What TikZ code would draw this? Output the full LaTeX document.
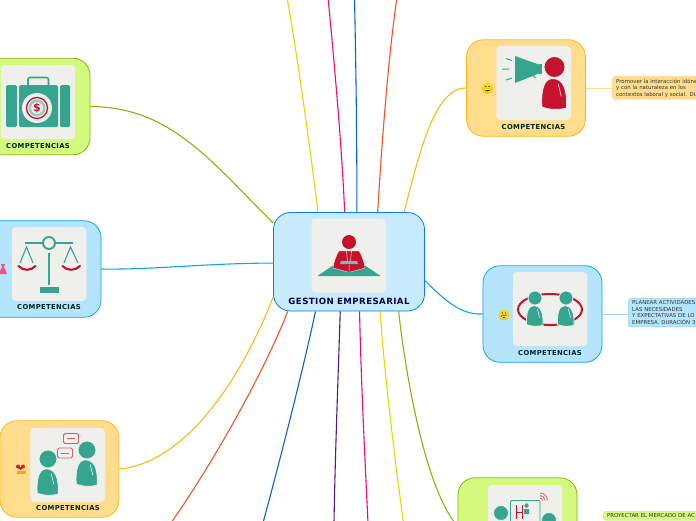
\documentclass[tikz,border=0pt]{standalone}
\usepackage{fontspec}
\setmainfont{DejaVu Sans}
\newfontfamily\widefont[LetterSpace=5]{DejaVu Sans}
\usetikzlibrary{backgrounds}

\definecolor{tilegray}{HTML}{EFF0EC}
\definecolor{iconteal}{HTML}{35A58F}
\definecolor{iconred}{HTML}{C5122F}
\definecolor{sunfill}{HTML}{FFDD8C}
\definecolor{sunline}{HTML}{FDB913}
\definecolor{skyfill}{HTML}{B4E5FC}
\definecolor{skyline}{HTML}{0EA5E9}
\definecolor{limefill}{HTML}{D3F97F}
\definecolor{limeline}{HTML}{86B60C}
\definecolor{lineyellow}{HTML}{E8D500}
\definecolor{linepink}{HTML}{EA0A78}
\definecolor{lineblue}{HTML}{0A62D0}
\definecolor{linered}{HTML}{EE5522}
\definecolor{linepurple}{HTML}{55187F}

% person: head and body, x y of the head, radius, colour
\newcommand{\personicon}[4]{
  \fill[#4, draw=tilegray, line width=0.8pt] (#1,#2) circle (#3);
  \fill[#4, draw=tilegray, line width=0.8pt] (#1-0.2*#3,#2+1.1*#3)
    .. controls (#1+0.9*#3,#2+1.1*#3) and (#1+1.2*#3,#2+2.2*#3) .. (#1+1.15*#3,#2+3.9*#3)
    .. controls (#1+0.5*#3,#2+4.1*#3) and (#1-0.5*#3,#2+4.1*#3) .. (#1-1.2*#3,#2+3.8*#3)
    .. controls (#1-1.3*#3,#2+2.2*#3) and (#1-1*#3,#2+1.1*#3) .. cycle;
  \draw[tilegray, line width=0.6pt] (#1+0.35*#3,#2+1.6*#3) -- (#1+0.65*#3,#2+2.8*#3);
}
% smiley
\newcommand{\smileyicon}[2]{
  \fill[orange!60!yellow] (#1,#2) circle (5.4);
  \fill[yellow!80!orange] (#1,#2-0.3) circle (4.8);
  \fill[black!80] (#1-1.6,#2-2) circle (0.7) (#1+1.6,#2-2) circle (0.7);
  \fill[black!75] (#1-3,#2+0.3) -- (#1+3,#2+0.3) arc (0:180:3 and 2.6) -- cycle;
  \fill[white] (#1-2.5,#2+0.6) rectangle (#1+2.5,#2+1.4);
}

\begin{document}
\begin{tikzpicture}[
    x=1pt, y=-1pt,
    hub/.style={draw=skyline!75!blue, fill=skyfill!75!white, line width=0.8pt, rounded corners=17pt, minimum width=151pt, minimum height=98.5pt, inner sep=0pt},
    topic/.style={line width=0.8pt, rounded corners=17pt, minimum width=119pt, minimum height=96.5pt, inner sep=0pt},
    tile/.style={fill=tilegray, rounded corners=4pt, minimum width=74.5pt, minimum height=74pt, inner sep=0pt},
    title/.style={font=\widefont\bfseries\fontsize{6.8}{7}\selectfont, text=black!70!teal, inner sep=0pt},
    leaf/.style={rounded corners=3pt, anchor=north west, inner xsep=4pt, inner ysep=2.5pt, text width=110pt, align=left, font=\fontsize{5.4}{6.55}\selectfont, text=black!80},
    branch/.style={line width=1.1pt},
    twig/.style={line width=1pt}
]
\useasboundingbox (0,0) rectangle (696,520);
\clip (0,0) rectangle (696,520);

\node[hub] (hub) at (349,261.75) {};
\node[tile] (hubtile) at (348.75,255.5) {};
\node[font=\widefont\bfseries\fontsize{8.6}{9}\selectfont, text=blue!30!black, inner sep=0pt] (hubtitle) at (349,301.5) {GESTION EMPRESARIAL};

\node[topic, draw=limeline, fill=limefill] (money) at (30.5,106.5) {};
\node[tile] (moneytile) at (38,102) {};
\node[title] (moneytitle) at (38,146) {COMPETENCIAS};

\node[topic, draw=skyline, fill=skyfill, minimum width=121pt] (justice) at (40.5,269) {};
\node[tile] (justicetile) at (49,264) {};
\node[title] (justicetitle) at (49,307.5) {COMPETENCIAS};

\node[topic, draw=sunline, fill=sunfill] (talk) at (59.5,469) {};
\node[tile] (talktile) at (67.5,465) {};
\node[title] (talktitle) at (68,508.5) {COMPETENCIAS};

\node[topic, draw=sunline, fill=sunfill] (voice) at (526,88) {};
\node[tile] (voicetile) at (533.5,83) {};
\node[title] (voicetitle) at (533.5,127) {COMPETENCIAS};

\node[topic, draw=skyline, fill=skyfill] (team) at (542.5,314) {};
\node[tile] (teamtile) at (550,309) {};
\node[title] (teamtitle) at (550,353) {COMPETENCIAS};

\node[topic, draw=limeline, fill=limefill] (market) at (517.5,526) {};
\node[tile] (markettile) at (525,522) {};

\node[leaf, draw=sunfill!80!white, fill=sunfill] (voiceleaf) at (612,76) {Promover la interacción idóne\\y con la naturaleza en los\\contextos laboral y social. DU};
\node[leaf, draw=skyfill!70!skyline, fill=skyfill] (teamleaf) at (628,298) {PLANEAR ACTIVIDADES\\LAS NECESIDADES\\Y EXPECTATIVAS DE LO\\EMPRESA. DURACIÓN 3};
\node[leaf, draw=limefill!80!limeline, fill=limefill] (marketleaf) at (603,511) {PROYECTAR EL MERCADO DE AC\\ };

\coordinate (yellowtop) at (287,-3);
\coordinate (pinktop) at (328,-3);
\coordinate (bluetop) at (354.5,-3);
\coordinate (redtop) at (397,-3);
\coordinate (redend) at (171,523);
\coordinate (blueend) at (263,523);
\coordinate (purpleend) at (334,523);
\coordinate (pinkend) at (368,523);
\coordinate (yellowend) at (403.5,523);

\begin{pgfonlayer}{background}
\draw[branch, color=lineyellow] (hub.122) .. controls (309,140) and (298,60) .. (yellowtop);
\draw[branch, color=linepink] (hub.95) .. controls (342,150) and (335,70) .. (pinktop);
\draw[branch, color=lineblue] (hub.81) .. controls (357,140) and (356,70) .. (bluetop);
\draw[branch, color=linered] (hub.60) .. controls (382,140) and (388,60) .. (redtop);
\draw[branch, color=sunline] (hub.42) .. controls (420,150) and (435,88) .. (voice.west);
\draw[branch, color=skyline] (hub.-14) .. controls (445,300) and (460,315) .. (team.west);
\draw[branch, color=limeline] (hub.-45) .. controls (405,370) and (425,490) .. (market.west);
\draw[branch, color=lineyellow] (hub.-58.6) .. controls (385,380) and (395,460) .. (yellowend);
\draw[branch, color=linepink] (hub.-78.5) .. controls (361,380) and (365,460) .. (pinkend);
\draw[branch, color=linepurple] (hub.-100) .. controls (338,380) and (335,460) .. (purpleend);
\draw[branch, color=lineblue] (hub.-124.6) .. controls (303,370) and (280,460) .. (blueend);
\draw[branch, color=linered] (hub.-141) .. controls (265,370) and (215,460) .. (redend);
\draw[branch, color=sunline] (hub.205.6) .. controls (245,370) and (190,462) .. (talk.east);
\draw[branch, color=skyline] (hub.181.7) .. controls (210,263) and (150,270) .. (justice.east);
\draw[branch, color=limeline] (hub.153) .. controls (210,160) and (170,107) .. (money.east);
\draw[twig, color=sunfill] (voice.east) -- (voiceleaf.west |- voice.east);
\draw[twig, color=skyfill!85!skyline] (team.east) -- (teamleaf.west |- team.east);
\end{pgfonlayer}

% hub icon
\fill[iconteal] (338,262) -- (360,262) -- (380.5,276) -- (317.5,276) -- cycle;
\fill[iconred] (349,242) circle (7);
\fill[iconred, draw=tilegray, line width=0.4pt] (339,251) -- (359,251) .. controls (362,255) and (365,265) .. (365,268) -- (350,272) -- (348,272) -- (333,268) .. controls (333,265) and (336,255) .. (339,251) -- cycle;
\fill[iconteal!70!white] (341,261) -- (357,261) -- (358,264) -- (340,264) -- cycle;
\draw[tilegray, line width=0.5pt] (346.5,250) -- (347.5,261) (351.5,250) -- (350.5,261) (349,265) -- (349,271);

% suitcase
\fill[iconteal, rounded corners=1.5pt] (6,85) rectangle (17,127) (19,85) rectangle (58,127) (60,85) rectangle (70,127);
\draw[iconteal, line width=1.6pt, rounded corners=2pt] (28,85) -- (28,77.5) -- (48.5,77.5) -- (48.5,85);
\fill[tilegray] (37,108) circle (15);
\draw[iconred, line width=1.3pt] (37,108) circle (10.5);
\fill[iconteal!50!tilegray] (37,108) circle (8.5);
\fill[tilegray] (37,108) circle (6);
\node[text=iconred, font=\bfseries\fontsize{11}{11}\selectfont, inner sep=0pt] (moneysign) at (37,108) {\$};

% scales
\draw[iconteal, line width=1.9pt] (25,243) -- (42,243) (56,243) -- (73,243);
\draw[iconteal, line width=1.9pt] (49,243) circle (6);
\draw[iconteal, line width=1.9pt] (49,253) -- (49,285);
\fill[iconteal] (39.5,286.5) rectangle (58.5,292.5);
\draw[iconteal, line width=1.1pt] (20,263) -- (26.5,247) -- (33,263) (64,263) -- (70.5,247) -- (78,263);
\draw[iconred, line width=2.1pt, line cap=round] (18.5,266) .. controls (23,271) and (31,271) .. (35.5,266);
\draw[iconred, line width=2.1pt, line cap=round] (62.5,266) .. controls (67,271) and (75,271) .. (80,266);

% talk
\personicon{48}{459}{9}{iconteal}
\personicon{87}{450}{9}{iconteal}
\draw[iconred!70!white, line width=0.9pt, rounded corners=1.5pt, fill=tilegray] (63.5,433.5) rectangle (78.5,443.5);
\draw[iconred!70!white, line width=0.9pt, rounded corners=1.5pt, fill=tilegray] (57.5,448) rectangle (72.5,458);
\draw[iconred!70!white, line width=1pt] (67,438.5) -- (75,438.5) (61,453) -- (69,453);

% megaphone
\fill[iconteal] (515,56) -- (540,65) -- (540,73) -- (515,83) -- cycle;
\fill[iconteal] (539,64) rectangle (542,74);
\draw[iconteal, line width=1pt] (526,78) arc (200:340:5);
\draw[iconteal, line width=1pt] (506,58.5) -- (512,60.5) (502,69) -- (509,69) (506,80) -- (512,78);
\personicon{554.5}{67}{10.5}{iconred}

% team
\draw[iconred, line width=2pt] (550,309.5) ellipse (32 and 15.5);
\personicon{535}{298}{7}{iconteal}
\personicon{566}{298}{7}{iconteal}

% market
\draw[iconteal, line width=0.9pt, rounded corners=1pt] (510.5,500.5) rectangle (540,530);
\draw[iconred, line width=0.9pt] (516,505) -- (516,519) (522,505) -- (522,519) (516,512) -- (522,512);
\fill[iconteal] (526.5,505.5) circle (2.2) (524,509) rectangle (529,514);
\personicon{501}{513}{7.5}{iconteal}
\personicon{549}{520}{7.5}{iconteal}
\draw[iconred!60!white, line width=1pt] (540,493) arc (-90:0:7.5) (540,495.5) arc (-90:0:5) (540,498) arc (-90:0:2.5);

% emoji marks
\smileyicon{487.5}{88.5}
\smileyicon{504}{315}
\fill[magenta!60!red!70!white] (1,264) -- (2,267) -- (0,271) -- (0,274) -- (7,274) -- (6,271) -- (4,267) -- (5,264) -- cycle;
\fill[iconred!80!orange] (18,466.5) circle (2) (23,466.5) circle (2);
\fill[iconred!80!orange] (16.5,467) -- (24.5,467) -- (20.5,470) -- cycle;
\fill[sunline!70!brown] (16.5,470.5) rectangle (25.5,474);
\end{tikzpicture}
\end{document}
